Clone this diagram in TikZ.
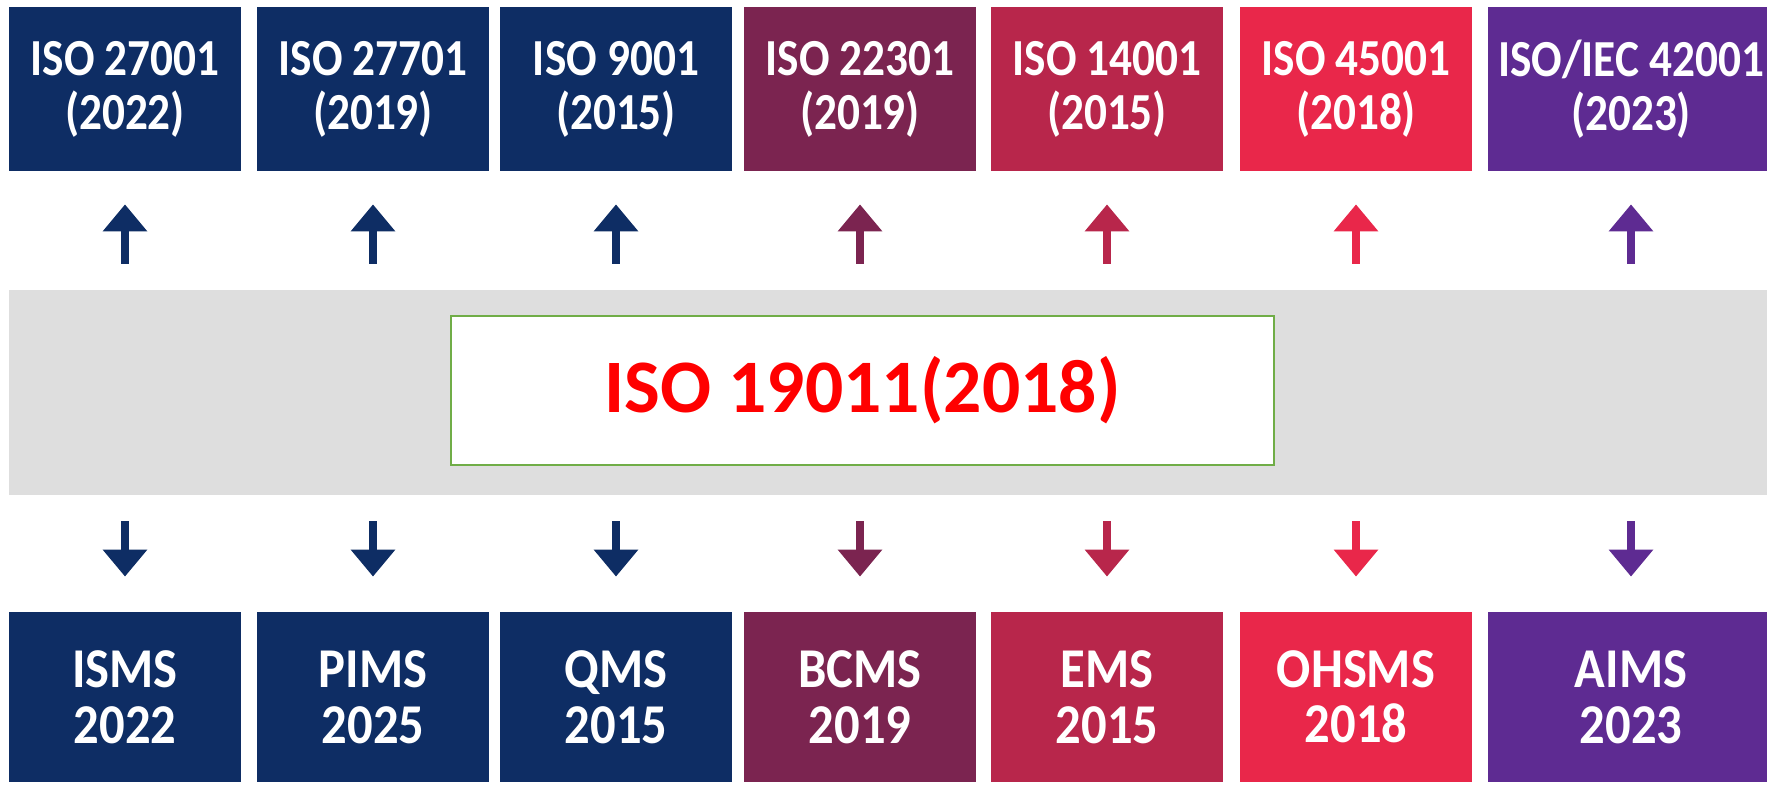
\documentclass[tikz,border=0pt]{standalone}
\usepackage{fontspec}
\setmainfont{Carlito}
\newfontfamily\boxfont[FakeStretch=0.87]{Carlito}
\newfontfamily\sysfont[FakeStretch=0.9]{Carlito}
\usetikzlibrary{arrows.meta}

\definecolor{isonavy}{HTML}{0E2D64}
\definecolor{isomaroon}{HTML}{7B2450}
\definecolor{isocrimson}{HTML}{B8264B}
\definecolor{isored}{HTML}{E9274A}
\definecolor{isopurple}{HTML}{5E2B92}
\definecolor{bandgray}{HTML}{DEDEDE}
\definecolor{isogreen}{HTML}{70AD47}

\begin{document}
\begin{tikzpicture}[thick,
        stdbox/.style={fill=#1, text=white, align=center, inner sep=0pt,
            minimum width=2.32cm, minimum height=1.64cm,
            font=\boxfont\fontsize{14.8}{15.4}\selectfont\bfseries},
        sysbox/.style={fill=#1, text=white, align=center, inner sep=0pt,
            minimum width=2.32cm, minimum height=1.70cm,
            font=\sysfont\fontsize{16}{15.8}\selectfont\bfseries},
        uparr/.style={draw=#1, line width=0.08cm,
            -{Triangle[width=0.43cm,length=0.27cm]},
            shorten <=0.25cm, shorten >=0.32cm},
        downarr/.style={draw=#1, line width=0.08cm,
            -{Triangle[width=0.43cm,length=0.27cm]},
            shorten <=0.25cm, shorten >=0.34cm}]
        \useasboundingbox (0,0) rectangle (17.67,7.86);

        \node (band) at (8.92, 3.935) [fill=bandgray,minimum width=17.66cm,minimum height=2.05cm] {};
        \node (main) at (8.625, 3.955) [draw=isogreen,line width=0.02cm,fill=white,minimum width=8.23cm,minimum height=1.49cm,text=red,font=\fontsize{21.5}{24}\selectfont\bfseries] {ISO 19011(2018)};

        \node (t1) at (1.25, 6.97) [stdbox=isonavy] {ISO 27001\\(2022)};
        \node (t2) at (3.73, 6.97) [stdbox=isonavy] {ISO 27701\\(2019)};
        \node (t3) at (6.16, 6.97) [stdbox=isonavy] {ISO 9001\\(2015)};
        \node (t4) at (8.60, 6.97) [stdbox=isomaroon] {ISO 22301\\(2019)};
        \node (t5) at (11.07, 6.97) [stdbox=isocrimson] {ISO 14001\\(2015)};
        \node (t6) at (13.56, 6.97) [stdbox=isored] {ISO 45001\\(2018)};
        \node (t7) at (16.31, 6.97) [stdbox=isopurple,minimum width=2.86cm] {ISO/IEC 42001\\(2023)};

        \node (b1) at (1.25, 0.89) [sysbox=isonavy] {ISMS\\2022};
        \node (b2) at (3.73, 0.89) [sysbox=isonavy] {PIMS\\2025};
        \node (b3) at (6.16, 0.89) [sysbox=isonavy] {QMS\\2015};
        \node (b4) at (8.60, 0.89) [sysbox=isomaroon] {BCMS\\2019};
        \node (b5) at (11.07, 0.89) [sysbox=isocrimson] {EMS\\2015};
        \node (b6) at (13.56, 0.89) [sysbox=isored] {OHSMS\\2018};
        \node (b7) at (16.31, 0.89) [sysbox=isopurple,minimum width=2.86cm] {AIMS\\2023};

        \draw[uparr=isonavy] (t1.south |- band.north) -- (t1.south);
        \draw[uparr=isonavy] (t2.south |- band.north) -- (t2.south);
        \draw[uparr=isonavy] (t3.south |- band.north) -- (t3.south);
        \draw[uparr=isomaroon] (t4.south |- band.north) -- (t4.south);
        \draw[uparr=isocrimson] (t5.south |- band.north) -- (t5.south);
        \draw[uparr=isored] (t6.south |- band.north) -- (t6.south);
        \draw[uparr=isopurple] (t7.south |- band.north) -- (t7.south);

        \draw[downarr=isonavy] (b1.north |- band.south) -- (b1.north);
        \draw[downarr=isonavy] (b2.north |- band.south) -- (b2.north);
        \draw[downarr=isonavy] (b3.north |- band.south) -- (b3.north);
        \draw[downarr=isomaroon] (b4.north |- band.south) -- (b4.north);
        \draw[downarr=isocrimson] (b5.north |- band.south) -- (b5.north);
        \draw[downarr=isored] (b6.north |- band.south) -- (b6.north);
        \draw[downarr=isopurple] (b7.north |- band.south) -- (b7.north);
    \end{tikzpicture}
\end{document}
